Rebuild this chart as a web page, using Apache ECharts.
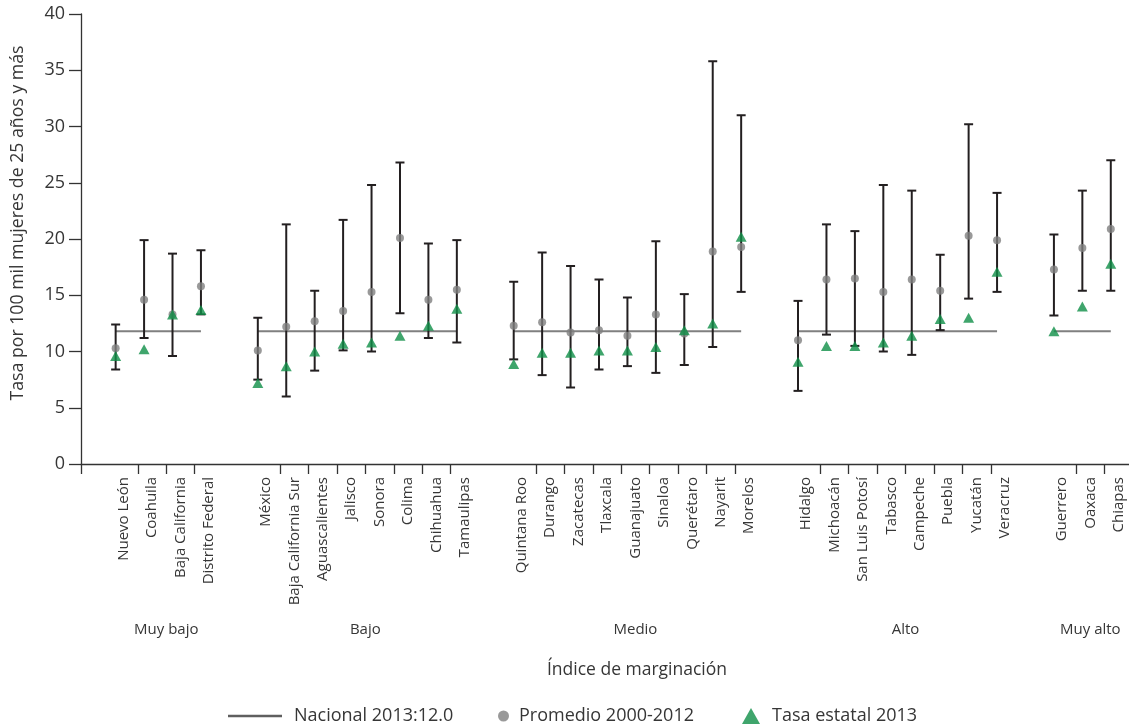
<!DOCTYPE html>
<html><head><meta charset="utf-8">
<script src="https://cdn.jsdelivr.net/npm/echarts@6/dist/echarts.min.js"></script>
<style>html,body{margin:0;padding:0;background:#fff}#c{width:1129px;height:728px}</style>
</head><body><div id="c"></div>
<script>
// ---- data ----
const groupNames = ['Muy bajo', 'Bajo', 'Medio', 'Alto', 'Muy alto'];
const groupSizes = [4, 8, 9, 8, 3];
const states = [
  'Nuevo León', 'Coahuila', 'Baja California', 'Distrito Federal',
  'México', 'Baja California Sur', 'Aguascalientes', 'Jalisco', 'Sonora', 'Colima', 'Chihuahua', 'Tamaulipas',
  'Quintana Roo', 'Durango', 'Zacatecas', 'Tlaxcala', 'Guanajuato', 'Sinaloa', 'Querétaro', 'Nayarit', 'Morelos',
  'Hidalgo', 'Michoacán', 'San Luis Potosí', 'Tabasco', 'Campeche', 'Puebla', 'Yucatán', 'Veracruz',
  'Guerrero', 'Oaxaca', 'Chiapas'
];
const rangeMin = [
  8.4, 11.2, 9.6, 13.3,
  7.5, 6.0, 8.3, 10.1, 10.0, 13.4, 11.2, 10.8,
  9.3, 7.9, 6.8, 8.4, 8.7, 8.1, 8.8, 10.4, 15.3,
  6.5, 11.5, 10.5, 10.0, 9.7, 11.9, 14.7, 15.3,
  13.2, 15.4, 15.4
];
const rangeMax = [
  12.4, 19.9, 18.7, 19.0,
  13.0, 21.3, 15.4, 21.7, 24.8, 26.8, 19.6, 19.9,
  16.2, 18.8, 17.6, 16.4, 14.8, 19.8, 15.1, 35.8, 31.0,
  14.5, 21.3, 20.7, 24.8, 24.3, 18.6, 30.2, 24.1,
  20.4, 24.3, 27.0
];
const promedio = [
  10.3, 14.6, 13.3, 15.8,
  10.1, 12.2, 12.7, 13.6, 15.3, 20.1, 14.6, 15.5,
  12.3, 12.6, 11.7, 11.9, 11.4, 13.3, 11.6, 18.9, 19.3,
  11.0, 16.4, 16.5, 15.3, 16.4, 15.4, 20.3, 19.9,
  17.3, 19.2, 20.9
];
const tasa2013 = [
  9.6, 10.2, 13.3, 13.7,
  7.2, 8.7, 10.0, 10.7, 10.8, 11.4, 12.3, 13.8,
  8.9, 9.9, 9.9, 10.1, 10.1, 10.4, 11.9, 12.5, 20.2,
  9.1, 10.5, 10.5, 10.8, 11.4, 12.9, 13.0, 17.1,
  11.8, 14.0, 17.8
];
const nacional = 11.8;
const yTicks = { min: 0, max: 40, interval: 5 };

// ---- build slotted arrays (one empty slot before each group) ----
const cats = [], lo = [], hi = [], avg = [], rate = [], nat = [], groupCenters = [];
let k = 0;
groupSizes.forEach((n, g) => {
  cats.push(''); lo.push(null); hi.push(null); avg.push(null); rate.push(null); nat.push(null);
  groupCenters.push(cats.length + n / 2);
  for (let i = 0; i < n; i++) {
    cats.push(states[k]); lo.push(rangeMin[k]); hi.push(rangeMax[k]);
    avg.push(promedio[k]); rate.push(tasa2013[k]); nat.push(nacional);
    k++;
  }
});
const errData = [];
cats.forEach((c, i) => { if (c !== '') errData.push([i, lo[i], hi[i]]); });

const FONT = '"Open Sans", "Noto Sans", sans-serif';
const TXT = '#363636';
const AX = '#333333';

function renderErr(params, api) {
  const x = api.value(0);
  const p1 = api.coord([x, api.value(1)]);
  const p2 = api.coord([x, api.value(2)]);
  const w = 4.5;
  const style = { stroke: '#231f20', lineWidth: 2 };
  return {
    type: 'group', children: [
      { type: 'line', shape: { x1: p1[0], y1: p1[1], x2: p2[0], y2: p2[1] }, style },
      { type: 'line', shape: { x1: p1[0] - w, y1: p1[1], x2: p1[0] + w, y2: p1[1] }, style },
      { type: 'line', shape: { x1: p2[0] - w, y1: p2[1], x2: p2[0] + w, y2: p2[1] }, style }
    ]
  };
}

const chart = echarts.init(document.getElementById('c'), null, { renderer: 'canvas' });
const legendText = { fontSize: 18, color: TXT, fontFamily: FONT, padding: [0, 0, 0, 7] };
chart.setOption({
  animation: false,
  backgroundColor: '#ffffff',
  grid: [
    { left: 81, right: -4, top: 14, bottom: 264, outerBoundsMode: 'none', containLabel: false },
    { left: 73, right: 4, top: 14, bottom: 264, outerBoundsMode: 'none', containLabel: false }
  ],
  legend: [
    { data: [{ name: 'Nacional 2013:12.0', icon: 'rect', itemStyle: { color: '#5f5f5f' } }],
      left: 223, top: 702, itemWidth: 54, itemHeight: 2.5, textStyle: legendText },
    { data: ['Promedio 2000-2012'], left: 493, top: 702, itemWidth: 11, itemHeight: 11,
      textStyle: Object.assign({}, legendText, { padding: [0, 0, 0, 5] }) },
    { data: ['Tasa estatal 2013'], left: 737, top: 702, itemWidth: 18, itemHeight: 16, textStyle: legendText }
  ],
  xAxis: [
    {
      gridIndex: 0, type: 'category', data: cats, boundaryGap: true,
      axisLine: { show: true, lineStyle: { color: AX, width: 1.3 } },
      axisTick: {
        show: true, length: 10, lineStyle: { color: AX, width: 1.3 },
        interval: (i) => i === 0 || (cats[i] !== '' && i > 0 && cats[i - 1] !== '')
      },
      axisLabel: { rotate: 90, interval: 0, fontSize: 15, color: TXT, fontFamily: FONT, margin: 13 },
      splitLine: { show: false }
    },
    {
      gridIndex: 0, type: 'value', min: 0, max: cats.length, interval: 0.5, position: 'bottom', offset: 152,
      axisLine: { show: false }, axisTick: { show: false }, splitLine: { show: false },
      axisLabel: {
        fontSize: 15, color: TXT, fontFamily: FONT, margin: 6,
        formatter: (v) => {
          const gi = groupCenters.findIndex(c => Math.abs(c - v) < 1e-6);
          return gi >= 0 ? groupNames[gi] : '';
        }
      },
      name: 'Índice de marginación', nameLocation: 'middle', nameGap: 45,
      nameTextStyle: { fontSize: 17.5, color: TXT, fontFamily: FONT, padding: [0, 0, 0, 60] }
    },
    { gridIndex: 1, type: 'category', data: cats, boundaryGap: true, show: false }
  ],
  yAxis: [
    {
      gridIndex: 0, type: 'value', min: yTicks.min, max: yTicks.max, interval: yTicks.interval,
      axisLine: { show: true, lineStyle: { color: AX, width: 1.3 } },
      axisTick: { show: true, length: 12, lineStyle: { color: AX, width: 1.3 } },
      splitLine: { show: false },
      axisLabel: { fontSize: 18, color: TXT, fontFamily: FONT, margin: 16 },
      name: 'Tasa por 100 mil mujeres de 25 años y más', nameLocation: 'middle', nameRotate: 90, nameGap: 54,
      nameTextStyle: { fontSize: 17.7, color: TXT, fontFamily: FONT, padding: [0, 0, 0, 32] }
    },
    { gridIndex: 1, type: 'value', min: yTicks.min, max: yTicks.max, interval: yTicks.interval, show: false }
  ],
  series: [
    {
      name: 'Nacional 2013:12.0', type: 'line', xAxisIndex: 2, yAxisIndex: 1, data: nat,
      connectNulls: false, symbol: 'none', z: 1,
      lineStyle: { color: '#808080', width: 2 }, itemStyle: { color: '#808080' }
    },
    {
      name: 'errores', type: 'custom', xAxisIndex: 2, yAxisIndex: 1, data: errData,
      renderItem: renderErr, encode: { x: 0, y: [1, 2] }, z: 2
    },
    {
      name: 'Promedio 2000-2012', type: 'scatter', xAxisIndex: 2, yAxisIndex: 1, data: avg,
      symbol: 'circle', symbolSize: 8, itemStyle: { color: '#808080' }, z: 3
    },
    {
      name: 'Tasa estatal 2013', type: 'scatter', xAxisIndex: 2, yAxisIndex: 1, data: rate,
      symbol: 'triangle', symbolSize: [11, 10], itemStyle: { color: '#0f8f47' }, z: 4
    }
  ]
});
</script></body></html>
